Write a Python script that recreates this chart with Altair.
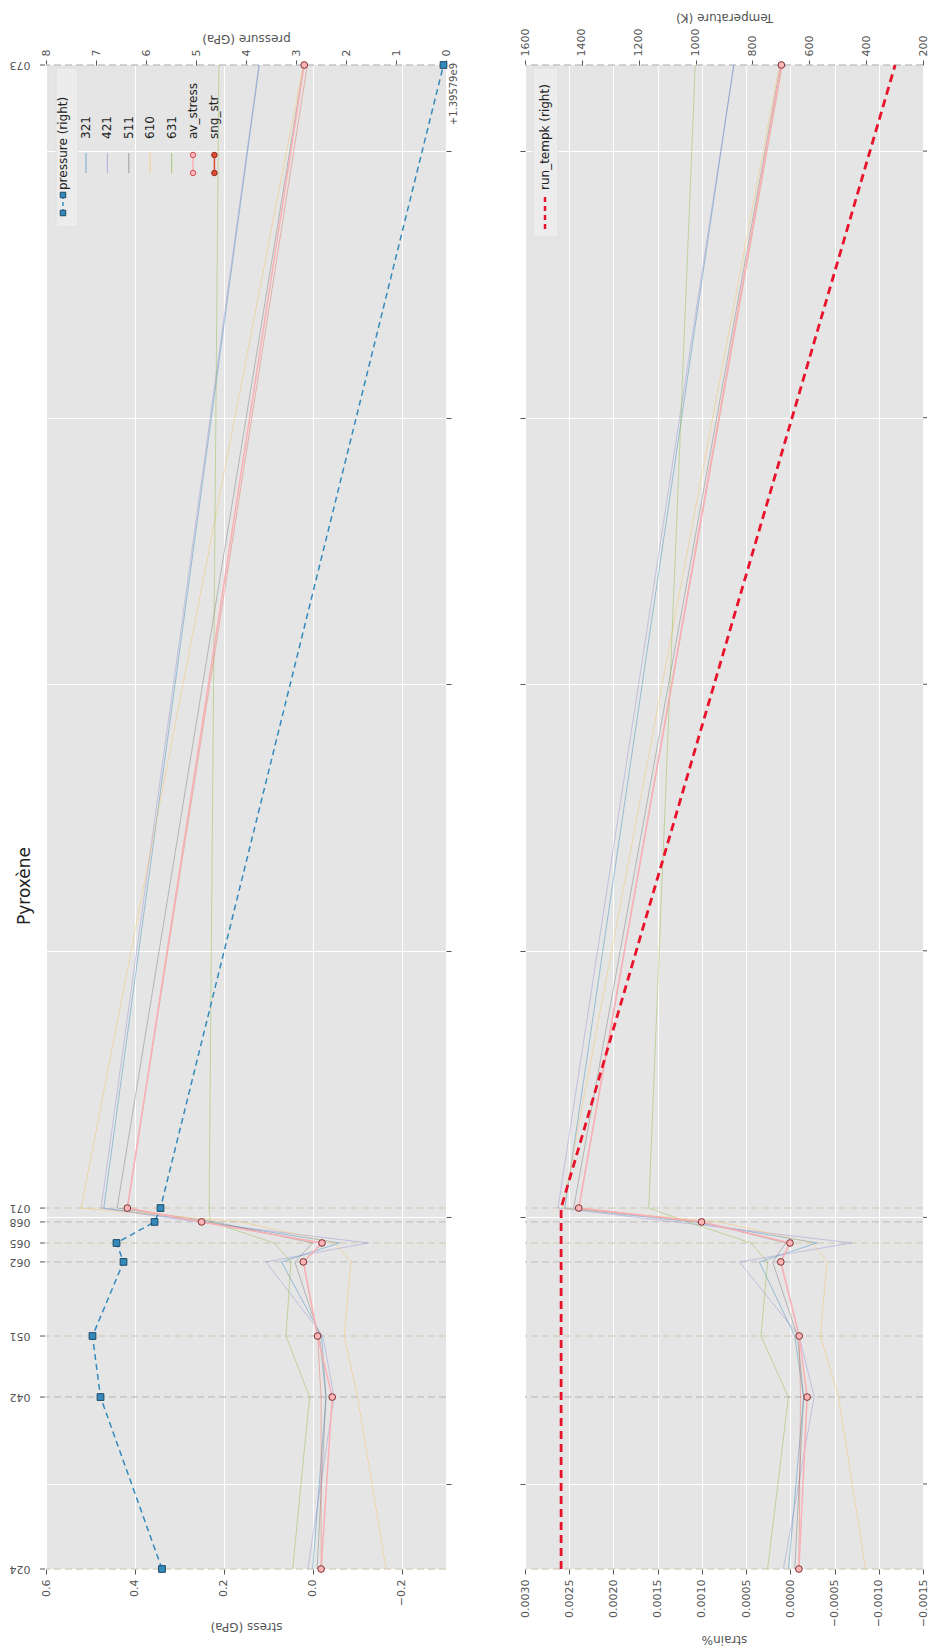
import altair as alt
import pandas as pd

FONT = "DejaVu Sans"
LABEL = "#555555"

# ---------------- data ----------------
runs = ["024", "042", "051", "062", "065", "068", "071", "073"]
run_time = [-31900, 32600, 55500, 83300, 90400, 98300, 103500, 532300]
time_ticks = [0, 100000, 200000, 300000, 400000, 500000]
time_domain = [-31900, 532300]

hkl = ["321", "421", "511", "610", "631"]
hkl_colors = ["#348ABD", "#988ED5", "#777777", "#FBC15E", "#8EBA42"]

stress_321 = [0.000, -0.030, -0.020, 0.070, -0.060, 0.240, 0.470, 0.120]
stress_421 = [0.011, -0.048, -0.023, 0.105, -0.125, 0.260, 0.476, 0.121]
stress_511 = [-0.010, -0.030, -0.015, 0.040, 0.000, 0.220, 0.440, 0.020]
stress_610 = [-0.165, -0.101, -0.071, -0.086, -0.050, 0.160, 0.521, 0.021]
stress_631 = [0.045, 0.007, 0.060, 0.049, 0.086, 0.230, 0.233, 0.211]
av_stress = [-0.019, -0.044, -0.011, 0.021, -0.021, 0.250, 0.417, 0.019]
sng_str = [-0.019, -0.019, -0.011, 0.021, -0.021, 0.250, 0.417, 0.012]
pressure_gpa = [5.68, 6.91, 7.07, 6.45, 6.59, 5.83, 5.71, 0.05]

strain_321 = [0.000020, -0.000150, -0.000050, 0.000350, -0.000300, 0.001100, 0.002550, 0.000640]
strain_421 = [0.000078, -0.000270, -0.000100, 0.000575, -0.000694, 0.001300, 0.002627, 0.000638]
strain_511 = [-0.000050, -0.000150, -0.000080, 0.000200, 0.000050, 0.001000, 0.002450, 0.000110]
strain_610 = [-0.000851, -0.000545, -0.000340, -0.000414, -0.000250, 0.000800, 0.002571, 0.000123]
strain_631 = [0.000257, 0.000022, 0.000332, 0.000257, 0.000444, 0.001160, 0.001601, 0.001075]
av_strain = [-0.000097, -0.000190, -0.000100, 0.000108, 0.000004, 0.001004, 0.002392, 0.000101]
sng_strain = [-0.000097, -0.000115, -0.000100, 0.000108, 0.000004, 0.001004, 0.002392, 0.000090]
run_tempk = [1473, 1473, 1473, 1473, 1473, 1473, 1473, 298]

# ---------------- tables ----------------
def long_table(series, valname):
    rows = []
    for name, vals in zip(hkl, series):
        for r, t, v in zip(runs, run_time, vals):
            rows.append({"hkl": name, "run": r, "t": t, valname: v})
    return pd.DataFrame(rows)

stress_df = long_table([stress_321, stress_421, stress_511, stress_610, stress_631], "stress")
strain_df = long_table([strain_321, strain_421, strain_511, strain_610, strain_631], "strain")
runs_df = pd.DataFrame({"run": runs, "t": run_time})
runs_df["shade"] = ["#c4c4c4" if i % 2 == 1 else "#d6d1c0" for i in range(len(runs))]
stress_pts = pd.DataFrame({"t": run_time, "av": av_stress, "sng": sng_str, "pressure": pressure_gpa})
strain_pts = pd.DataFrame({"t": run_time, "av": av_strain, "sng": sng_strain, "tempk": run_tempk})
ticks_df = pd.DataFrame({"t": time_ticks})
one = pd.DataFrame({"k": [0]})

WL, WR, H = 400, 398, 1504

yscale = alt.Scale(domain=time_domain, nice=False, zero=False)


def Yt(axis):
    return alt.Y("t:Q", scale=yscale, axis=axis)


def minus(fmt):
    return "replace(format(datum.value, '" + fmt + "'), '-', '\u2212')"


axL = alt.Axis(orient="right", values=time_ticks, labels=False, ticks=True, tickSize=5,
               tickColor=LABEL, grid=True, gridColor="white", gridWidth=1, domain=False, title=None)
axR = alt.Axis(orient="left", values=time_ticks, labels=False, ticks=True, tickSize=5,
               tickColor=LABEL, grid=True, gridColor="white", gridWidth=1, domain=False, title=None)

stress_scale = alt.Scale(domain=[-0.3, 0.6], reverse=True, nice=False, zero=False)
stress_axis = alt.Axis(orient="bottom", values=[-0.2, 0.0, 0.2, 0.4, 0.6], labelExpr=minus(".1f"),
                       labelAngle=270, labelAlign="right", labelBaseline="middle", labelPadding=5,
                       tickSize=5, tickColor=LABEL, grid=True, gridColor="white", domain=False,
                       title="stress (GPa)", titleAngle=180, titleBaseline="bottom", titlePadding=14)
p_scale = alt.Scale(domain=[0, 8], reverse=True, nice=False, zero=False)
p_axis = alt.Axis(orient="top", values=list(range(0, 9)), format="d", labelAngle=270,
                  labelAlign="left", labelBaseline="middle", labelPadding=4, tickSize=5,
                  tickColor=LABEL, grid=False, domain=False, title="pressure (GPa)",
                  titleAngle=180, titleBaseline="top", titlePadding=6)

strain_scale = alt.Scale(domain=[-0.0015, 0.0030], reverse=True, nice=False, zero=False)
strain_axis = alt.Axis(orient="bottom",
                       values=[-0.0015, -0.001, -0.0005, 0.0, 0.0005, 0.001, 0.0015, 0.002, 0.0025, 0.003],
                       labelExpr=minus(".4f"), labelAngle=270, labelAlign="right", labelBaseline="middle",
                       labelPadding=5, tickSize=5, tickColor=LABEL, grid=True, gridColor="white",
                       domain=False, title="strain%", titleAngle=180, titleBaseline="bottom",
                       titlePadding=6)
t_scale = alt.Scale(domain=[200, 1600], reverse=True, nice=False, zero=False)
t_axis = alt.Axis(orient="top", values=list(range(200, 1601, 200)), format="d", labelAngle=270,
                  labelAlign="left", labelBaseline="middle", labelPadding=4, tickSize=5,
                  tickColor=LABEL, grid=False, domain=False, title="Temperature (K)",
                  titleAngle=180, titleBaseline="top", titlePadding=6)

color_hkl = alt.Color("hkl:N", scale=alt.Scale(domain=hkl, range=hkl_colors), legend=None)


def vtext(label, x, y, size=12, color="#222222", align="left", angle=270):
    return alt.Chart(one).mark_text(angle=angle, align=align, baseline="middle", fontSize=size,
                                    color=color, font=FONT).encode(
        x=alt.value(x), y=alt.value(y), text=alt.value(label))


def vrule(x, y0, y1, color, width=1.0, dash=None, opacity=1.0):
    kw = dict(color=color, strokeWidth=width, opacity=opacity)
    if dash:
        kw["strokeDash"] = dash
    return alt.Chart(one).mark_rule(**kw).encode(x=alt.value(x), y=alt.value(y0), y2=alt.value(y1))


def vbox(x0, x1, y0, y1):
    return alt.Chart(one).mark_rect(fill="#ECECEC", stroke="#dddddd", strokeWidth=0.8).encode(
        x=alt.value(x0), x2=alt.value(x1), y=alt.value(y0), y2=alt.value(y1))


def vmark(x, y, fill, stroke, shape="circle", size=30):
    return alt.Chart(one).mark_point(shape=shape, filled=True, fill=fill, stroke=stroke,
                                     strokeWidth=1, size=size, opacity=1).encode(
        x=alt.value(x), y=alt.value(y))


# ---------------- left panel (stress / pressure) ----------------
base_runs = alt.Chart(runs_df)
l_dashed = base_runs.mark_rule(strokeDash=[7, 4], strokeWidth=1.4).encode(
    y=Yt(axL), color=alt.Color("shade:N", scale=None))
l_lines = alt.Chart(stress_df).mark_line(strokeWidth=1, opacity=0.45).encode(
    x=alt.X("stress:Q", scale=stress_scale, axis=stress_axis), y=Yt(axL), color=color_hkl, order="t:Q")
l_sng = alt.Chart(stress_pts).mark_line(color="#E24A33", strokeWidth=1, opacity=0.35).encode(
    x=alt.X("sng:Q", scale=stress_scale, axis=None), y=Yt(axL), order="t:Q")
l_av = alt.Chart(stress_pts).mark_line(color="#F9B0B4", strokeWidth=1.5).encode(
    x=alt.X("av:Q", scale=stress_scale, axis=None), y=Yt(axL), order="t:Q")
l_avp = alt.Chart(stress_pts).mark_circle(fill="#FFB5B8", stroke="#7a3030", strokeWidth=1, size=45, opacity=1).encode(
    x=alt.X("av:Q", scale=stress_scale, axis=None), y=Yt(axL))
l_p = alt.Chart(stress_pts).mark_line(color="#348ABD", strokeDash=[6, 4], strokeWidth=1.5).encode(
    x=alt.X("pressure:Q", scale=p_scale, axis=p_axis), y=Yt(axL), order="t:Q")
l_pp = alt.Chart(stress_pts).mark_square(fill="#348ABD", stroke="#1c4966", strokeWidth=1, size=45, opacity=1).encode(
    x=alt.X("pressure:Q", scale=p_scale, axis=None), y=Yt(axL))
l_rl = base_runs.mark_text(angle=180, fontSize=11, color=LABEL, font=FONT, align="center", baseline="middle").encode(
    y=Yt(axL), x=alt.value(-26), text="run:N")
l_rt = base_runs.mark_rule(color=LABEL, strokeWidth=1).encode(y=Yt(axL), x=alt.value(-6), x2=alt.value(-1))

left_layers = [l_dashed, l_lines, l_sng, l_av, l_avp, l_p, l_pp, l_rl, l_rt]
left_layers.append(vtext("+1.39579e9", 408, -2, size=10, color=LABEL, align="right"))
left_layers.append(vtext("Pyroxène", -21, 821, size=17, color="#222222", align="center"))

# legend (left)
left_layers.append(vbox(10, 32, 3, 162))
left_layers.append(vtext("pressure (right)", 17, 125))
left_layers.append(vrule(17, 130, 148, "#348ABD", 1.5, [4, 3]))
left_layers.append(vmark(17, 130, "#348ABD", "#1c4966", "square"))
left_layers.append(vmark(17, 148, "#348ABD", "#1c4966", "square"))
leg_names = hkl + ["av_stress", "sng_str"]
for i, name in enumerate(leg_names):
    xi = 40 + 21.4 * i
    left_layers.append(vtext(name, xi, 74))
    if i < len(hkl):
        left_layers.append(vrule(xi, 88, 108, hkl_colors[i], 1.2, None, 0.55))
    elif name == "av_stress":
        left_layers.append(vrule(xi, 90, 108, "#F9B0B4", 1.5))
        left_layers.append(vmark(xi, 90, "#FFB5B8", "#d0505a"))
        left_layers.append(vmark(xi, 108, "#FFB5B8", "#d0505a"))
    else:
        left_layers.append(vrule(xi, 90, 108, "#E24A33", 1.5))
        left_layers.append(vmark(xi, 90, "#E24A33", "#8a2a1a"))
        left_layers.append(vmark(xi, 108, "#E24A33", "#8a2a1a"))

left = alt.layer(*left_layers).resolve_scale(x="independent").properties(width=WL, height=H)

# ---------------- right panel (strain / temperature) ----------------
r_dashed = base_runs.mark_rule(strokeDash=[7, 4], strokeWidth=1.4).encode(
    y=Yt(axR), color=alt.Color("shade:N", scale=None))
r_lines = alt.Chart(strain_df).mark_line(strokeWidth=1, opacity=0.45).encode(
    x=alt.X("strain:Q", scale=strain_scale, axis=strain_axis), y=Yt(axR), color=color_hkl, order="t:Q")
r_sng = alt.Chart(strain_pts).mark_line(color="#E24A33", strokeWidth=1, opacity=0.35).encode(
    x=alt.X("sng:Q", scale=strain_scale, axis=None), y=Yt(axR), order="t:Q")
r_av = alt.Chart(strain_pts).mark_line(color="#F9B0B4", strokeWidth=1.5).encode(
    x=alt.X("av:Q", scale=strain_scale, axis=None), y=Yt(axR), order="t:Q")
r_avp = alt.Chart(strain_pts).mark_circle(fill="#FFB5B8", stroke="#7a3030", strokeWidth=1, size=45, opacity=1).encode(
    x=alt.X("av:Q", scale=strain_scale, axis=None), y=Yt(axR))
r_t = alt.Chart(strain_pts).mark_line(color="#E8132B", strokeDash=[8, 5], strokeWidth=2.8).encode(
    x=alt.X("tempk:Q", scale=t_scale, axis=t_axis), y=Yt(axR), order="t:Q")
r_edge_ticks = alt.Chart(ticks_df).mark_rule(color=LABEL, strokeWidth=1).encode(
    y=Yt(axR), x=alt.value(WR), x2=alt.value(WR + 4))

right_layers = [r_dashed, r_lines, r_sng, r_av, r_avp, r_t, r_edge_ticks]
right_layers.append(vbox(8, 33, 3, 172))
right_layers.append(vtext("run_tempk (right)", 20, 125))
right_layers.append(vrule(20, 132, 165, "#E8132B", 2.5, [5, 4]))

right = alt.layer(*right_layers).resolve_scale(x="independent").properties(width=WR, height=H)

chart = alt.hconcat(left, right, spacing=79, bounds="flush").resolve_scale(
    x="independent", y="independent"
).properties(
    padding={"left": 1, "top": 3, "right": 0, "bottom": 0}
).configure_view(
    fill="#E5E5E5", stroke=None
).configure_axis(
    labelFont=FONT, titleFont=FONT, labelColor=LABEL, titleColor=LABEL,
    labelFontSize=11, titleFontSize=12, titleFontWeight="normal"
)

chart.save("out.html", embed_options={"renderer": "svg", "actions": False})
